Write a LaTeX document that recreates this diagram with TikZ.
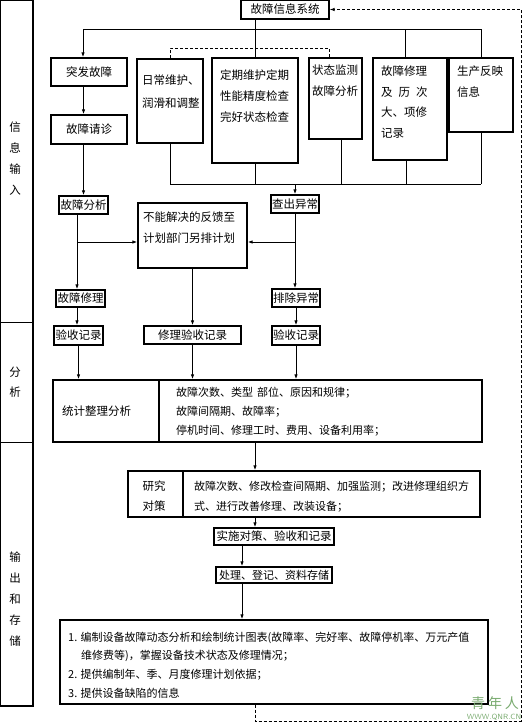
\documentclass[tikz,border=0pt]{standalone}
\usepackage{fontspec}
\newfontfamily\cjk{Noto Sans CJK SC}
\usetikzlibrary{arrows.meta}
\definecolor{wmgreen}{RGB}{120,170,110}
\newcommand\fnt[2]{\cjk\fontsize{#1}{#2}\selectfont}
\tikzset{
  box/.style={draw, line width=1.1pt, inner sep=0pt, font=\fnt{11.5}{14}},
  txt/.style={inner sep=0pt, align=left, anchor=west},
  ln/.style={line width=1pt},
  arr/.style={line width=1pt, -{Latex[length=5pt,width=3.4pt]}},
  dsh/.style={line width=0.9pt, dash pattern=on 3pt off 2pt},
}
\begin{document}
\begin{tikzpicture}[x=1pt,y=-1pt]
\useasboundingbox (0,0) rectangle (525,723);
% left column
\node[draw, line width=1.1pt, inner sep=0pt, minimum width=33pt, minimum height=706pt] (lcol) at (16.5,353) {};
\draw[ln] (0,322) -- (33,322);
\draw[ln] (0,442) -- (33,442);
\node[inner sep=0pt, align=center, font=\fnt{11.5}{21}] (lab1) at (15,158.5) {信\\息\\输\\入};
\node[inner sep=0pt, align=center, font=\fnt{11.5}{20}] (lab2) at (15,382) {分\\析};
\node[inner sep=0pt, align=center, font=\fnt{11.5}{21}] (lab3) at (15,599) {输\\出\\和\\存\\储};
% top
\node[box, minimum width=88pt, minimum height=19pt] (sys) at (285,9.5) {故障信息系统};
\node[box, minimum width=76pt, minimum height=28pt] (tf) at (89,72) {突发故障};
\node[box, minimum width=76pt, minimum height=29pt] (qz) at (89,129.5) {故障请诊};
\node[box, minimum width=66pt, minimum height=84pt] (rc) at (170,101) {};
\node[box, minimum width=86pt, minimum height=105pt] (dq) at (255,110.5) {};
\node[box, minimum width=53pt, minimum height=81pt] (zt) at (335.5,98.5) {};
\node[box, minimum width=74pt, minimum height=102pt] (gx) at (410,109) {};
\node[box, minimum width=64pt, minimum height=74pt] (sc) at (481,95) {};
\node[txt, font=\fnt{11.5}{23}] (trc) at (142,91.5) {日常维护、\\润滑和调整};
\node[txt, font=\fnt{11.5}{21}] (tdq) at (220,96) {定期维护定期\\性能精度检查\\完好状态检查};
\node[txt, font=\fnt{11.5}{21}] (tzt) at (312,81) {状态监测\\故障分析};
\node[txt, font=\fnt{11.5}{20.7}] (tgx) at (381,102) {故障修理\\及\hspace{6pt}历\hspace{6pt}次\\大、项修\\记录};
\node[txt, font=\fnt{11.5}{21}] (tsc) at (457,81.5) {生产反映\\信息};
% middle
\node[box, minimum width=49pt, minimum height=18pt] (fx) at (83.5,205) {故障分析};
\node[box, minimum width=109pt, minimum height=65pt] (bn) at (192.5,235.5) {};
\node[txt, font=\fnt{11.5}{21}] (tbn) at (143,227.5) {不能解决的反馈至\\计划部门另排计划};
\node[box, minimum width=48pt, minimum height=18pt] (cc) at (295,204) {查出异常};
\node[box, minimum width=49pt, minimum height=17pt] (xl) at (80.5,298.5) {故障修理};
\node[box, minimum width=48pt, minimum height=18pt] (pc) at (296,298) {排除异常};
\node[box, minimum width=49pt, minimum height=19pt] (ys1) at (78.5,335.5) {验收记录};
\node[box, minimum width=97pt, minimum height=18pt] (ys2) at (192.5,335) {修理验收记录};
\node[box, minimum width=48pt, minimum height=19pt] (ys3) at (296,335.5) {验收记录};
% analysis
\node[box, minimum width=106pt, minimum height=62pt] (tjL) at (106,411) {};
\node[box, minimum width=323pt, minimum height=62pt] (tjR) at (320.5,411) {};
\node[txt, font=\fnt{11.5}{14}] (ttjL) at (62,411) {统计整理分析};
\node[txt, font=\fnt{11}{19}] (ttjR) at (176,412) {故障次数、类型\hspace{4pt}部位、原因和规律；\\故障间隔期、故障率；\\停机时间、修理工时、费用、设备利用率；};
\node[box, minimum width=55pt, minimum height=46pt] (yjL) at (155.5,494) {};
\node[box, minimum width=297pt, minimum height=46pt] (yjR) at (331.5,494) {};
\node[inner sep=0pt, align=center, font=\fnt{11.5}{20}] (tyjL) at (154,496) {研究\\对策};
\node[txt, font=\fnt{11}{20}] (tyjR) at (194,496.5) {故障次数、修改检查间隔期、加强监测；改进修理组织方\\式、进行改善修理、改装设备；};
\node[box, minimum width=120pt, minimum height=17pt] (ss) at (274,536.5) {实施对策、验收和记录};
\node[box, minimum width=116pt, minimum height=16pt, font=\fnt{11}{13}] (cl) at (274,575) {处理、登记、资料存储};
\node[box, minimum width=428pt, minimum height=84pt] (out) at (274,662) {};
\node[txt, font=\fnt{11}{18.7}] (tout) at (68,665) {1. 编制设备故障动态分析和绘制统计图表(故障率、完好率、故障停机率、万元产值\\\hspace{13pt}维修费等)，掌握设备技术状态及修理情况；\\2. 提供编制年、季、月度修理计划依据；\\3. 提供设备缺陷的信息};
% watermark
\node[inner sep=0pt, text=wmgreen, font=\fnt{14}{14}] (wm1) at (495,703) {青\hspace{3pt}年\hspace{3pt}人};
\node[inner sep=0pt, text=wmgreen, font=\sffamily\fontsize{7.5}{8}\selectfont] (wm2) at (494,717) {WWW.QNR.CN};
% top connectors
\coordinate (busL) at (83,29);
\coordinate (busR) at (481,29);
\draw[ln] (sys.south -| dq.north) -- (dq.north);
\draw[ln] (busL) -- (busR);
\draw[arr] (busL) -- (busL |- tf.north);
\draw[ln] ([xshift=-5pt]gx.north |- busL) -- ([xshift=-5pt]gx.north);
\draw[ln] (busR) -- (sc.north);
\draw[dsh] (rc.north) -- ++(0,-10) -| ([xshift=-6.5pt]zt.north);
% lower bus
\coordinate (lbL) at (170,184);
\coordinate (lbR) at (481,184);
\draw[ln] (rc.south) -- (rc.south |- lbL);
\draw[ln] (dq.south) -- (dq.south |- lbL);
\draw[ln] ([xshift=5.5pt]zt.south) -- ([xshift=5.5pt]zt.south |- lbL);
\draw[ln] ([xshift=-4pt]gx.south) -- ([xshift=-4pt]gx.south |- lbL);
\draw[ln] (sc.south) -- (sc.south |- lbL);
\draw[ln] (lbL) -- (lbR);
\draw[arr] (cc.north |- lbL) -- (cc.north);
% left chain
\draw[arr] (tf.south -| fx.north) -- (qz.north -| fx.north);
\draw[arr] (qz.south -| fx.north) -- (fx.north);
\draw[arr] ([xshift=-6.5pt]fx.south) -- ([xshift=-6.5pt]fx.south |- xl.north);
\coordinate (brL) at (77,242);
\coordinate (brR) at (295,242);
\draw[arr] (brL) -- (brL -| bn.west);
\draw[arr] (cc.south) -- (cc.south |- pc.north);
\draw[arr] (brR) -- (brR -| bn.east);
\draw[arr] ([xshift=-3.5pt]xl.south) -- ([xshift=-3.5pt]xl.south |- ys1.north);
\draw[arr] (pc.south) -- (ys3.north);
\draw[arr] (bn.south) -- (ys2.north);
\draw[arr] (ys1.south) -- (ys1.south |- tjR.north);
\draw[arr] (ys2.south) -- (ys2.south |- tjR.north);
\draw[arr] (ys3.south) -- (ys3.south |- tjR.north);
\draw[arr] (tjR.south -| dq.south) -- (yjR.north -| dq.south);
\draw[arr] (yjR.south -| dq.south) -- (ss.north -| dq.south);
\draw[arr] ([xshift=-32pt]ss.south) -- ([xshift=-32pt]ss.south |- cl.north);
\draw[arr] ([xshift=-32pt]cl.south) -- ([xshift=-32pt]cl.south |- out.north);
% feedback
\coordinate (fbC) at (521,721);
\coordinate (fbT) at (521,9.5);
\draw[dsh, -{Latex[length=5pt,width=3.4pt]}] (out.south -| dq.south) |- (fbC) -- (fbT) -- (sys.east);
\end{tikzpicture}
\end{document}
